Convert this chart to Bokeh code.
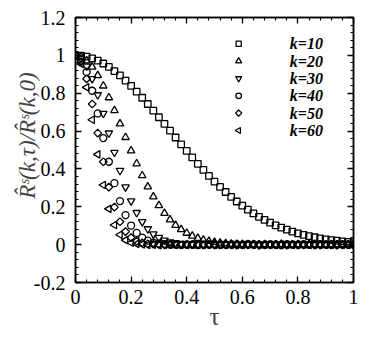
import numpy as np
from bokeh.plotting import figure
from bokeh.models import Range1d, FixedTicker, LinearAxis
from bokeh.core.properties import value
from bokeh.embed import file_html
from bokeh.resources import INLINE

tau = [0.00, 0.02, 0.04, 0.06, 0.08, 0.10, 0.12, 0.14, 0.16, 0.18,
       0.20, 0.22, 0.24, 0.26, 0.28, 0.30, 0.32, 0.34, 0.36, 0.38,
       0.40, 0.42, 0.44, 0.46, 0.48, 0.50, 0.52, 0.54, 0.56, 0.58,
       0.60, 0.62, 0.64, 0.66, 0.68, 0.70, 0.72, 0.74, 0.76, 0.78,
       0.80, 0.82, 0.84, 0.86, 0.88, 0.90, 0.92, 0.94, 0.96, 0.98,
       1.00]

k10 = [1.000, 0.998, 0.993, 0.984, 0.972, 0.957, 0.939, 0.917, 0.894, 0.867,
       0.839, 0.808, 0.776, 0.743, 0.708, 0.673, 0.638, 0.602, 0.566, 0.530,
       0.495, 0.461, 0.427, 0.395, 0.363, 0.333, 0.305, 0.278, 0.252, 0.228,
       0.206, 0.185, 0.165, 0.147, 0.131, 0.116, 0.102, 0.090, 0.079, 0.069,
       0.060, 0.052, 0.045, 0.039, 0.033, 0.028, 0.024, 0.021, 0.017, 0.015,
       0.012]

k20 = [1.000, 0.993, 0.972, 0.939, 0.894, 0.839, 0.777, 0.709, 0.639, 0.567,
       0.496, 0.428, 0.365, 0.306, 0.253, 0.207, 0.166, 0.132, 0.103, 0.080,
       0.061, 0.046, 0.034, 0.025, 0.018, 0.013, 0.009, 0.006, 0.004, 0.003,
       0.002, 0.001, 0.001, 0.000, 0.001, -0.001, 0.000, 0.002, 0.000, -0.001,
       0.001, 0.000, 0.000, 0.001, -0.001, 0.000, 0.001, 0.000, -0.002, 0.000,
       0.001]

k30 = [1.000, 0.985, 0.943, 0.876, 0.791, 0.693, 0.589, 0.487, 0.391, 0.304,
       0.230, 0.169, 0.121, 0.083, 0.056, 0.037, 0.023, 0.014, 0.009, 0.005,
       0.003, 0.002, 0.001, 0.000, 0.001, -0.001, 0.000, 0.002, 0.000, -0.001,
       0.000, 0.001, 0.000, -0.002, 0.000, 0.001, 0.000, 0.000, -0.001, 0.001,
       0.000, 0.000, 0.002, -0.001, 0.000, 0.001, 0.000, -0.001, 0.000, 0.001,
       0.000]

k40 = [1.000, 0.977, 0.912, 0.813, 0.693, 0.563, 0.438, 0.325, 0.230, 0.156,
       0.101, 0.062, 0.037, 0.021, 0.011, 0.006, 0.003, 0.001, 0.000, -0.001,
       0.001, 0.000, -0.002, 0.000, 0.001, 0.000, -0.001, 0.001, 0.000, 0.000,
       -0.001, 0.002, 0.000, 0.000, -0.001, 0.001, 0.000, -0.002, 0.001, 0.000,
       0.000, 0.001, -0.001, 0.000, 0.002, 0.000, -0.001, 0.000, 0.001, 0.000,
       -0.001]

k50 = [1.000, 0.967, 0.876, 0.743, 0.589, 0.438, 0.304, 0.198, 0.121, 0.069,
       0.037, 0.018, 0.009, 0.004, 0.002, 0.001, -0.001, 0.000, 0.001, -0.002,
       0.000, 0.001, 0.000, -0.001, 0.000, 0.002, 0.000, -0.001, 0.000, 0.001,
       0.000, -0.002, 0.001, 0.000, 0.000, -0.001, 0.001, 0.000, 0.000, 0.002,
       -0.001, 0.000, 0.001, 0.000, -0.001, 0.000, 0.001, -0.001, 0.000, 0.000,
       0.001]

k60 = [1.000, 0.955, 0.831, 0.660, 0.477, 0.315, 0.189, 0.104, 0.052, 0.024,
       0.010, 0.004, 0.001, -0.002, 0.000, -0.003, -0.001, 0.000, -0.002, 0.001,
       -0.001, 0.000, -0.002, 0.000, 0.001, -0.001, 0.000, -0.002, 0.000, 0.000,
       -0.001, 0.001, 0.000, -0.002, 0.000, 0.000, -0.001, 0.001, 0.000, -0.001,
       0.000, 0.001, -0.002, 0.000, 0.000, -0.001, 0.000, 0.001, 0.000, -0.001,
       0.000]

series = [k10, k20, k30, k40, k50, k60]
series_labels = ["k=10", "k=20", "k=30", "k=40", "k=50", "k=60"]

x_ticks = [0, 0.2, 0.4, 0.6, 0.8, 1]
x_tick_labels = ["0", "0.2", "0.4", "0.6", "0.8", "1"]
y_ticks = [-0.2, 0, 0.2, 0.4, 0.6, 0.8, 1, 1.2]
y_tick_labels = ["-0.2", "0", "0.2", "0.4", "0.6", "0.8", "1", "1.2"]

x_minor = [round(i * 0.04, 2) for i in range(26)]
y_minor = [round(-0.2 + i * 0.04, 2) for i in range(36)]

FONT = "Liberation Serif, Times New Roman, serif"
Y_TITLE = "R̂ˢ(k,τ)/R̂ˢ(k,0)"

p = figure(width=366, height=337, output_backend="svg", toolbar_location=None,
           x_range=Range1d(0, 1), y_range=Range1d(-0.2, 1.2),
           min_border_left=75, min_border_right=13, min_border_top=17,
           min_border_bottom=55,
           x_axis_label="τ", y_axis_label="\u00a0" * 5 + Y_TITLE)
p.grid.visible = False
p.outline_line_color = "black"
p.outline_line_width = 1.5
p.background_fill_color = "white"
p.border_fill_color = "white"


def style_axis(ax, ticks, minor, labels, show_labels=True):
    ax.ticker = FixedTicker(ticks=ticks, minor_ticks=minor)
    ax.axis_line_color = "black"
    ax.axis_line_width = 1.5
    ax.major_tick_line_color = "black"
    ax.major_tick_line_width = 1.3
    ax.minor_tick_line_color = "black"
    ax.minor_tick_line_width = 1.1
    ax.major_tick_in = 6
    ax.major_tick_out = 0
    ax.minor_tick_in = 3
    ax.minor_tick_out = 0
    if show_labels:
        ax.major_label_overrides = {t: l for t, l in zip(ticks, labels)}
        ax.major_label_text_font = FONT
        ax.major_label_text_font_size = "20px"
        ax.major_label_text_color = "black"
    else:
        ax.major_label_overrides = {t: "" for t in ticks}
        ax.major_label_text_font_size = "1px"
        ax.major_label_standoff = 0


xa = p.xaxis[0]
ya = p.yaxis[0]
style_axis(xa, x_ticks, x_minor, x_tick_labels)
style_axis(ya, y_ticks, y_minor, y_tick_labels)
xa.major_label_standoff = 7
ya.major_label_standoff = 10
xa.axis_label_text_font = FONT
xa.axis_label_text_font_size = "25px"
xa.axis_label_text_font_style = "normal"
xa.axis_label_standoff = -4
ya.axis_label_text_font = FONT
ya.axis_label_text_font_size = "23px"
ya.axis_label_text_font_style = "italic"
ya.axis_label_standoff = -9

top = LinearAxis()
right = LinearAxis()
style_axis(top, x_ticks, x_minor, x_tick_labels, show_labels=False)
style_axis(right, y_ticks, y_minor, y_tick_labels, show_labels=False)
p.add_layout(top, "above")
p.add_layout(right, "right")

styles = [
    dict(marker="square", size=6.5, angle=0.0),
    dict(marker="triangle", size=7.5, angle=0.0),
    dict(marker="inverted_triangle", size=7.5, angle=0.0),
    dict(marker="circle", size=7.0, angle=0.0),
    dict(marker="square", size=5.5, angle=np.pi / 4),
    dict(marker="triangle", size=7.5, angle=np.pi / 2),
]

for vals, st in zip(series, styles):
    p.scatter(tau, vals, marker=st["marker"], size=st["size"], angle=st["angle"],
              line_color="black", line_width=1.3, fill_color=None)

# legend (layout positions in data units of the frame)
LEG_X = 0.587
LEG_TX = 0.771
LEG_Y0 = 1.061
LEG_DY = 0.0916
leg_y = [LEG_Y0 - i * LEG_DY for i in range(len(series_labels))]
for i, st in enumerate(styles):
    p.scatter([LEG_X], [leg_y[i]], marker=st["marker"], size=st["size"] * 0.8,
              angle=st["angle"], line_color="black", line_width=1.3, fill_color=None)
p.text(x=[LEG_TX] * len(series_labels), y=leg_y, text=series_labels,
       text_font=value(FONT), text_font_style="bold italic", text_font_size="16px",
       text_color="black", text_align="left", text_baseline="middle")

open("out.html", "w").write(file_html(p, INLINE))
